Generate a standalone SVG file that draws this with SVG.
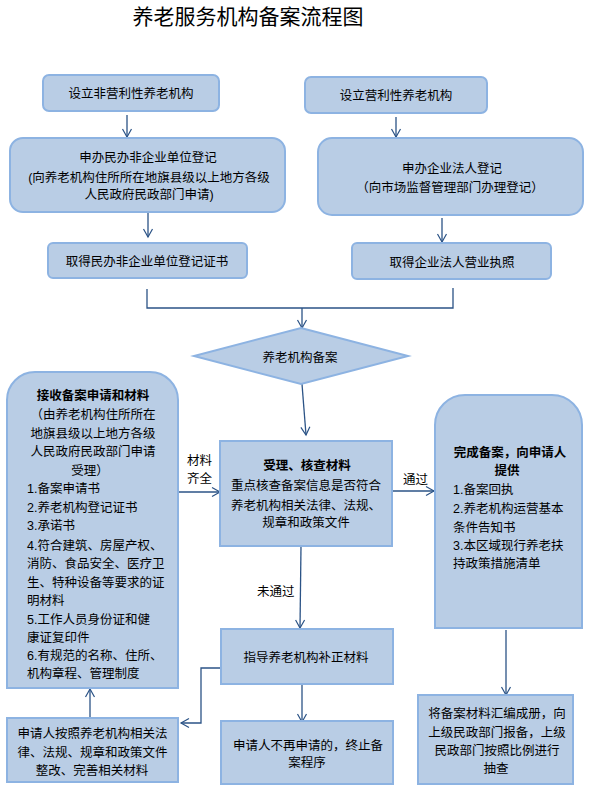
<svg xmlns="http://www.w3.org/2000/svg" width="592" height="797" viewBox="0 0 592 797">
<style>
.bx{fill:#b9cde5;stroke:#8db3e2;stroke-width:2}
.t{font-family:"Liberation Sans","Noto Sans CJK SC",sans-serif;font-size:12.5px;fill:#000}
.m{text-anchor:middle}
.b{font-weight:bold}
.c{fill:none;stroke:#2b5386;stroke-width:1.3}
.ttl{font-family:"Liberation Sans","Noto Sans CJK SC",sans-serif;font-size:21px;fill:#000;text-anchor:middle}
</style>
<defs>
<marker id="ah" markerUnits="userSpaceOnUse" markerWidth="12" markerHeight="12" refX="9" refY="6" orient="auto">
<path d="M1,1.5 L9,6 L1,10.5" fill="none" stroke="#2b5386" stroke-width="1.2"/>
</marker>
</defs>
<rect width="592" height="797" fill="#fff"/>
<text class="ttl" x="248" y="24">养老服务机构备案流程图</text>

<g id="connectors">
<line class="c" x1="127" y1="115" x2="127" y2="137" marker-end="url(#ah)"/>
<line class="c" x1="396" y1="117" x2="396" y2="137" marker-end="url(#ah)"/>
<line class="c" x1="148" y1="213" x2="148" y2="237" marker-end="url(#ah)"/>
<line class="c" x1="442" y1="218" x2="442" y2="242" marker-end="url(#ah)"/>
<polyline class="c" points="147,289 147,308 453,308 453,288"/>
<line class="c" x1="302" y1="308" x2="302" y2="328" marker-end="url(#ah)"/>
<line class="c" x1="302" y1="384" x2="306" y2="435" marker-end="url(#ah)"/>
<line class="c" x1="178" y1="492" x2="220" y2="492" marker-end="url(#ah)"/>
<line class="c" x1="392" y1="491" x2="434" y2="491" marker-end="url(#ah)"/>
<line class="c" x1="301" y1="546" x2="300" y2="628" marker-end="url(#ah)"/>
<line class="c" x1="506" y1="630" x2="506" y2="695" marker-end="url(#ah)"/>
<line class="c" x1="302" y1="684" x2="302" y2="722" marker-end="url(#ah)"/>
<polyline class="c" points="221,668 201,668 201,723 181,723" marker-end="url(#ah)"/>
<line class="c" x1="90" y1="718" x2="90" y2="689" marker-end="url(#ah)"/>
<text class="t" x="187" y="465">材料</text>
<text class="t" x="187" y="483">齐全</text>
<text class="t" x="403" y="484">通过</text>
<text class="t" x="257" y="596">未通过</text>
</g>

<g id="n1">
<rect class="bx" x="43" y="75" width="176" height="36" rx="6"/>
<text class="t m" x="131" y="97.5">设立非营利性养老机构</text>
</g>
<g id="n2">
<rect class="bx" x="305" y="77" width="182" height="36" rx="6"/>
<text class="t m" x="396" y="99.5">设立营利性养老机构</text>
</g>
<g id="n3">
<rect class="bx" x="10" y="138" width="275" height="74" rx="13"/>
<text class="t m" x="148" y="161.5">申办民办非企业单位登记</text>
<text class="t m" x="149" y="181.5">(向养老机构住所所在地旗县级以上地方各级</text>
<text class="t m" x="149" y="198.5">人民政府民政部门申请)</text>
</g>
<g id="n4">
<rect class="bx" x="318" y="138" width="265" height="77" rx="14"/>
<text class="t m" x="452" y="172.5">申办企业法人登记</text>
<text class="t m" x="450" y="191.5">（向市场监督管理部门办理登记）</text>
</g>
<g id="n5">
<rect class="bx" x="48" y="243" width="199" height="35" rx="5"/>
<text class="t m" x="147" y="265.5">取得民办非企业单位登记证书</text>
</g>
<g id="n6">
<rect class="bx" x="352" y="243" width="199" height="36" rx="5"/>
<text class="t m" x="452" y="266.5">取得企业法人营业执照</text>
</g>
<g id="n7">
<polygon class="bx" points="301,328 408,356 301,384 194,356"/>
<text class="t m" x="300" y="361.5">养老机构备案</text>
</g>
<g id="n8">
<path class="bx" d="M7,688 L7,400 A28,28 0 0 1 35,372 L150,372 A28,28 0 0 1 178,400 L178,688 Z"/>
<text class="t m b" x="93" y="399.5">接收备案申请和材料</text>
<text class="t m" x="93" y="418.5">（由养老机构住所所在</text>
<text class="t m" x="93" y="437.5">地旗县级以上地方各级</text>
<text class="t m" x="93" y="455.5">人民政府民政部门申请</text>
<text class="t m" x="90" y="474.5">受理）</text>
<text class="t" x="27" y="492.5">1.备案申请书</text>
<text class="t" x="27" y="511.5">2.养老机构登记证书</text>
<text class="t" x="27" y="529.5">3.承诺书</text>
<text class="t" x="27" y="549.5">4.符合建筑、房屋产权、</text>
<text class="t" x="27" y="567.5">消防、食品安全、医疗卫</text>
<text class="t" x="27" y="586.5">生、特种设备等要求的证</text>
<text class="t" x="27" y="604.5">明材料</text>
<text class="t" x="27" y="623.5">5.工作人员身份证和健</text>
<text class="t" x="27" y="641.5">康证复印件</text>
<text class="t" x="27" y="659.5">6.有规范的名称、住所、</text>
<text class="t" x="27" y="677.5">机构章程、管理制度</text>
</g>
<g id="n9">
<rect class="bx" x="220" y="441" width="172" height="105"/>
<text class="t m b" x="307" y="469.5">受理、核查材料</text>
<text class="t m" x="306" y="489.5">重点核查备案信息是否符合</text>
<text class="t m" x="306" y="509.5">养老机构相关法律、法规、</text>
<text class="t m" x="306" y="526.5">规章和政策文件</text>
</g>
<g id="n10">
<path class="bx" d="M435,628 L435,425 A30,30 0 0 1 465,395 L552,395 A30,30 0 0 1 582,425 L582,628 Z"/>
<text class="t m b" x="510" y="456.5">完成备案，向申请人</text>
<text class="t m b" x="507" y="474.5">提供</text>
<text class="t" x="453" y="493.5">1.备案回执</text>
<text class="t" x="453" y="512.5">2.养老机构运营基本</text>
<text class="t" x="453" y="531.5">条件告知书</text>
<text class="t" x="453" y="549.5">3.本区域现行养老扶</text>
<text class="t" x="453" y="567.5">持政策措施清单</text>
</g>
<g id="n11">
<rect class="bx" x="221" y="629" width="172" height="55"/>
<text class="t m" x="306" y="661.5">指导养老机构补正材料</text>
</g>
<g id="n12">
<rect class="bx" x="221" y="721" width="172" height="63"/>
<text class="t m" x="308" y="749.5">申请人不再申请的，终止备</text>
<text class="t m" x="307" y="766.5">案程序</text>
</g>
<g id="n13">
<rect class="bx" x="7" y="718" width="171" height="64"/>
<text class="t m" x="92.5" y="737.5">申请人按照养老机构相关法</text>
<text class="t m" x="92.5" y="756.5">律、法规、规章和政策文件</text>
<text class="t m" x="92" y="774.5">整改、完善相关材料</text>
</g>
<g id="n14">
<rect class="bx" x="418" y="695" width="155" height="89"/>
<text class="t m" x="497" y="717.5">将备案材料汇编成册，向</text>
<text class="t m" x="497" y="736.5">上级民政部门报备，上级</text>
<text class="t m" x="497" y="754.5">民政部门按照比例进行</text>
<text class="t m" x="496" y="772.5">抽查</text>
</g>
</svg>
